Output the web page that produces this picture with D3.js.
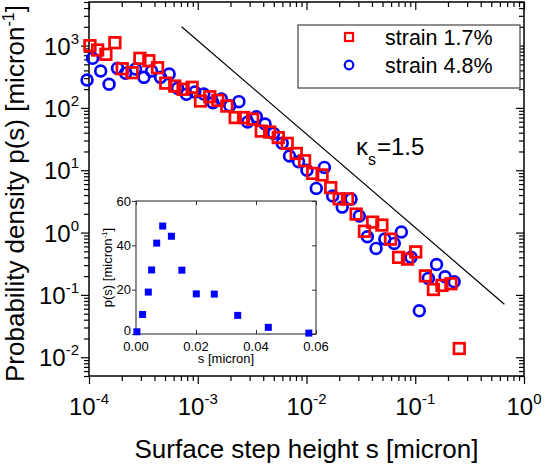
<!DOCTYPE html>
<html>
<head>
<meta charset="utf-8">
<script src="https://cdn.jsdelivr.net/npm/d3@7"></script>
<style>
body{margin:0;background:#fff;}
svg{display:block;font-family:"Liberation Sans",Arial,Helvetica,sans-serif;}
</style>
</head>
<body>
<svg id="chart" width="545" height="465"></svg>
<script>
// ---- data ----
const strainLowS = [1.02e-4,1.20e-4,1.43e-4,1.73e-4,2.02e-4,2.49e-4,2.94e-4,3.55e-4,4.27e-4,5.08e-4,6.15e-4,7.33e-4,8.87e-4,1.06e-3,1.29e-3,1.53e-3,1.85e-3,2.21e-3,2.64e-3,3.20e-3,3.84e-3,4.58e-3,5.50e-3,6.65e-3,8.05e-3,9.60e-3,1.14e-2,1.39e-2,1.67e-2,2.00e-2,2.38e-2,2.86e-2,3.41e-2,4.06e-2,4.93e-2,5.93e-2,7.03e-2,8.49e-2,0.101,0.124,0.147,0.176,0.213,0.254];
const strainLowP = [995,849,724,1111,425,367,624,571,441,250,224,199,214,129,151,132,107,70,70,66,42.5,40.9,33.4,27.0,18.6,14.2,8.9,8.4,5.26,3.47,3.47,1.98,1.05,1.47,1.32,0.785,0.40,0.375,0.49,0.202,0.122,0.142,0.151,0.0138];
const strainHighS = [9.6e-5,1.08e-4,1.28e-4,1.53e-4,1.83e-4,2.17e-4,2.68e-4,3.20e-4,3.76e-4,4.55e-4,5.46e-4,6.52e-4,7.87e-4,9.39e-4,1.135e-3,1.38e-3,1.65e-3,1.97e-3,2.39e-3,2.88e-3,3.46e-3,4.16e-3,4.98e-3,5.98e-3,6.98e-3,8.45e-3,1.01e-2,1.23e-2,1.46e-2,1.74e-2,2.13e-2,2.57e-2,3.06e-2,3.63e-2,4.36e-2,5.25e-2,6.41e-2,7.45e-2,9.14e-2,0.109,0.132,0.157,0.188,0.228];
const strainHighP = [280,624,390,239,431,359,420,309,390,309,349,206,165,180,167,121,139,108,126,59.3,72.1,55,39,27.0,16.9,13.7,10.0,5.11,11.1,3.87,2.56,3.44,1.84,0.855,0.557,0.785,0.670,1.02,0.40,0.0555,0.184,0.308,0.195,0.162];
const guideS = [7.1e-4, 0.66];
const guideP = [2000, 0.071];
const insetS = [0.0003,0.0022,0.0041,0.0052,0.0069,0.0089,0.0118,0.0153,0.0201,0.0261,0.0339,0.0441,0.0576];
const insetP = [1,8.8,18.9,28.9,41,48.7,44.1,28.8,18.1,18,8.4,3,0.4];
const xTickExps = [-4,-3,-2,-1,0];
const yTickExps = [-2,-1,0,1,2,3];
const insetXTicks = [0,0.02,0.04,0.06];
const insetYTicks = [0,20,40,60];
const legendLabels = ["strain 1.7%","strain 4.8%"];

// ---- layout ----
const svg = d3.select("#chart");
const L = 89, R = 524, T = 2, B = 376;
const x = d3.scaleLog().domain([1e-4, 1]).range([L, R]);
const y = d3.scaleLog().domain([0.005, 5000]).range([B, T]);

function minors(lo, hi) {
  const out = [];
  for (let e = lo; e < hi; e++) for (let k = 2; k <= 9; k++) out.push(k * Math.pow(10, e));
  return out;
}
const xMinor = minors(-4, 0);
const yMinor = minors(-3, 4).filter(v => v >= 0.005 && v <= 5000);
const xMajor = xTickExps.map(e => Math.pow(10, e));
const yMajor = yTickExps.map(e => Math.pow(10, e));

function styleAxis(g) {
  g.select(".domain").remove();
  g.selectAll("line").attr("stroke", "#000").attr("stroke-width", 1.2);
}
[B, T].forEach(yy => {
  svg.append("g").attr("transform", `translate(0,${yy})`)
    .call(d3.axisBottom(x).tickValues(xMajor).tickSize(8).tickFormat("")).call(styleAxis);
  svg.append("g").attr("transform", `translate(0,${yy})`)
    .call(d3.axisBottom(x).tickValues(xMinor).tickSize(5).tickFormat("")).call(styleAxis);
});
[L, R].forEach(xx => {
  svg.append("g").attr("transform", `translate(${xx},0)`)
    .call(d3.axisLeft(y).tickValues(yMajor).tickSize(8).tickFormat("")).call(styleAxis);
  svg.append("g").attr("transform", `translate(${xx},0)`)
    .call(d3.axisLeft(y).tickValues(yMinor).tickSize(5).tickFormat("")).call(styleAxis);
});
svg.append("rect").attr("x", L).attr("y", T).attr("width", R - L).attr("height", B - T)
  .attr("fill", "none").attr("stroke", "#000").attr("stroke-width", 1.5);

xTickExps.forEach(e => {
  const t = svg.append("text").attr("x", x(Math.pow(10, e))).attr("y", 415)
    .attr("text-anchor", "middle").attr("font-size", 24).attr("fill", "#000");
  t.append("tspan").text("10");
  t.append("tspan").attr("font-size", 15).attr("dy", -11).text(String(e));
});
yTickExps.forEach(e => {
  const t = svg.append("text").attr("x", 79).attr("y", y(Math.pow(10, e)) + 9)
    .attr("text-anchor", "end").attr("font-size", 24).attr("fill", "#000");
  t.append("tspan").text("10");
  t.append("tspan").attr("font-size", 15).attr("dy", -11).text(String(e));
});

svg.append("text").attr("x", (L + R) / 2).attr("y", 458).attr("text-anchor", "middle")
  .attr("font-size", 26).text("Surface step height s [micron]");
const yt = svg.append("text").attr("transform", "translate(24,382) rotate(-90)")
  .attr("text-anchor", "start").attr("font-size", 26);
yt.append("tspan").text("Probability density p(s) [micron");
yt.append("tspan").attr("font-size", 16).attr("dy", -10).text("-1");
yt.append("tspan").attr("dy", 10).text("]");

svg.append("path").datum(guideS.map((s, i) => [s, guideP[i]]))
  .attr("d", d3.line().x(d => x(d[0])).y(d => y(d[1])))
  .attr("fill", "none").attr("stroke", "#000").attr("stroke-width", 1.2);

const kt = svg.append("text").attr("x", 356).attr("y", 155).attr("font-size", 24);
kt.append("tspan").text("κ");
kt.append("tspan").attr("font-size", 16).attr("dy", 10).text("s");
kt.append("tspan").attr("dy", -10).attr("dx", 1).text("=1.5");

svg.append("g").selectAll("circle").data(strainHighS.map((s, i) => [s, strainHighP[i]]))
  .join("circle").attr("cx", d => x(d[0])).attr("cy", d => y(d[1])).attr("r", 5.4)
  .attr("fill", "none").attr("stroke", "#0000ff").attr("stroke-width", 2.7);
const sq = 10.6;
svg.append("g").selectAll("rect").data(strainLowS.map((s, i) => [s, strainLowP[i]]))
  .join("rect").attr("x", d => x(d[0]) - sq / 2).attr("y", d => y(d[1]) - sq / 2)
  .attr("width", sq).attr("height", sq)
  .attr("fill", "none").attr("stroke", "#ff0000").attr("stroke-width", 2.7);

svg.append("rect").attr("x", 298).attr("y", 25).attr("width", 222).attr("height", 63)
  .attr("fill", "#fff").attr("stroke", "#444").attr("stroke-width", 1.2);
svg.append("rect").attr("x", 345).attr("y", 33).attr("width", 8).attr("height", 8)
  .attr("fill", "none").attr("stroke", "#ff0000").attr("stroke-width", 2.2);
svg.append("circle").attr("cx", 349).attr("cy", 65).attr("r", 4.3)
  .attr("fill", "none").attr("stroke", "#0000ff").attr("stroke-width", 2.2);
legendLabels.forEach((t, i) => {
  svg.append("text").attr("x", 385).attr("y", 45 + i * 28).attr("font-size", 21.5).text(t);
});

// ---- inset ----
const iL = 136, iR = 316, iT = 201, iB = 334;
const ix = d3.scaleLinear().domain([0, 0.06]).range([iL, iR]);
const iy = d3.scaleLinear().domain([0, 60]).range([iB, iT]);
svg.append("rect").attr("x", iL).attr("y", iT).attr("width", iR - iL).attr("height", iB - iT)
  .attr("fill", "#fff").attr("stroke", "none");
function styleInset(g) {
  g.select(".domain").remove();
  g.selectAll("line").attr("stroke", "#333").attr("stroke-width", 1);
}
[iB, iT].forEach(yy => {
  svg.append("g").attr("transform", `translate(0,${yy})`)
    .call(d3.axisTop(ix).tickValues(insetXTicks).tickSize(yy === iB ? 4 : -4).tickFormat("")).call(styleInset);
});
[iL, iR].forEach(xx => {
  svg.append("g").attr("transform", `translate(${xx},0)`)
    .call(d3.axisLeft(iy).tickValues(insetYTicks).tickSize(4).tickFormat("")).call(styleInset);
});
svg.append("rect").attr("x", iL).attr("y", iT).attr("width", iR - iL).attr("height", iB - iT)
  .attr("fill", "none").attr("stroke", "#333").attr("stroke-width", 1.1);
insetXTicks.forEach(v => {
  svg.append("text").attr("x", ix(v)).attr("y", 350.5).attr("text-anchor", "middle")
    .attr("font-size", 13).text(v.toFixed(2));
});
insetYTicks.forEach(v => {
  svg.append("text").attr("x", 131).attr("y", iy(v) + (v === 0 ? 0.5 : 4.5)).attr("text-anchor", "end")
    .attr("font-size", 13).text(v);
});
svg.append("text").attr("x", (iL + iR) / 2).attr("y", 363).attr("text-anchor", "middle")
  .attr("font-size", 13).text("s [micron]");
const iyt = svg.append("text").attr("transform", `translate(112,${(iT + iB) / 2}) rotate(-90)`)
  .attr("text-anchor", "middle").attr("font-size", 13);
iyt.append("tspan").text("p(s) [micron");
iyt.append("tspan").attr("font-size", 8).attr("dy", -5).text("-1");
iyt.append("tspan").attr("dy", 5).text("]");
const isq = 7;
svg.append("g").selectAll("rect").data(insetS.map((s, i) => [s, insetP[i]]))
  .join("rect").attr("x", d => ix(d[0]) - isq / 2).attr("y", d => iy(d[1]) - isq / 2)
  .attr("width", isq).attr("height", isq).attr("fill", "#0000ff");
</script>
</body>
</html>
